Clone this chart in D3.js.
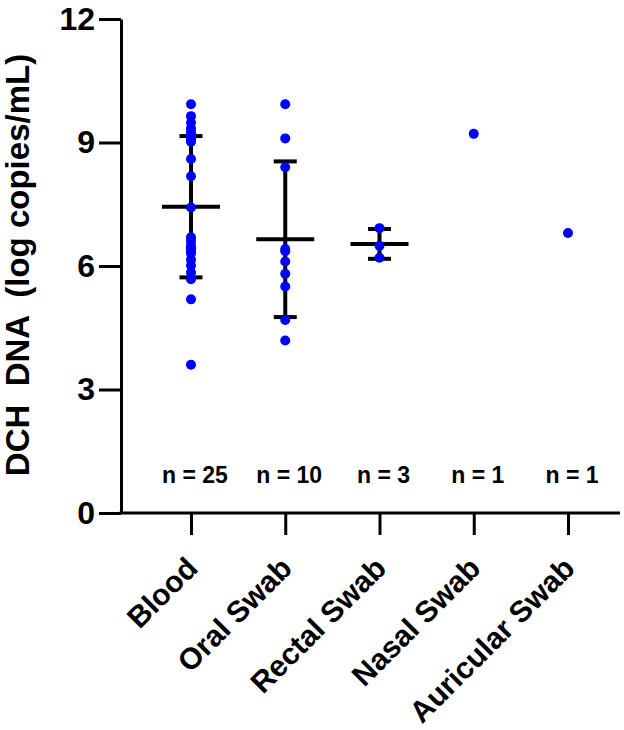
<!DOCTYPE html>
<html>
<head>
<meta charset="utf-8">
<script src="https://cdn.jsdelivr.net/npm/d3@7"></script>
<style>
  body { margin: 0; background: #fff; }
  text { font-family: "Liberation Sans", Arial, sans-serif; font-weight: bold; }
</style>
</head>
<body>
<div id="chart"></div>
<script>
// sample groups, values (log copies/mL)
var categories = ["Blood", "Oral Swab", "Rectal Swab", "Nasal Swab", "Auricular Swab"];
var bloodValues = [9.93, 9.64, 9.48, 9.34, 9.25, 9.18, 9.10, 9.06, 9.02, 8.60, 8.18, 7.42,
                   6.70, 6.61, 6.50, 6.45, 6.40, 6.36, 6.31, 6.15, 6.01, 5.84, 5.68, 5.19, 3.60];
var oralValues = [9.93, 9.10, 8.40, 6.41, 6.36, 6.11, 5.81, 5.50, 4.69, 4.19];
var rectalValues = [6.92, 6.49, 6.20];
var nasalValues = [9.21];
var auricularValues = [6.80];
var yTicks = [0, 3, 6, 9, 12];
var yTitle = "DCH  DNA  (log copies/mL)";

var groups = [bloodValues, oralValues, rectalValues, nasalValues, auricularValues];

var width = 624, height = 730;

var svg = d3.select("#chart").append("svg")
    .attr("width", width)
    .attr("height", height);

var x = d3.scalePoint()
    .domain(categories)
    .range([191, 568]);

var y = d3.scaleLinear()
    .domain([0, 12])
    .range([513, 19]);

// y axis
var yAxis = svg.append("g")
    .attr("transform", "translate(121,0)")
    .call(d3.axisLeft(y).tickValues(yTicks).tickSize(22).tickSizeOuter(0).tickPadding(4));
yAxis.selectAll("path, line").attr("stroke", "#000").attr("stroke-width", 3);
yAxis.selectAll("text").style("font-size", "32px").attr("fill", "#000");

// x axis, domain line runs from the y axis to the right edge
var xAxis = svg.append("g")
    .attr("transform", "translate(0," + y(0) + ")")
    .call(d3.axisBottom(x).tickSize(22).tickSizeOuter(0));
xAxis.select(".domain").attr("d", "M119.5,0H620");
xAxis.selectAll("path, line").attr("stroke", "#000").attr("stroke-width", 3);
xAxis.selectAll("text")
    .attr("x", null)
    .attr("y", null)
    .attr("dy", null)
    .attr("transform", "translate(8,57) rotate(-45)")
    .style("text-anchor", "end")
    .style("font-size", "30px")
    .attr("fill", "#000");

// y title
svg.append("text")
    .attr("transform", "translate(29,265) rotate(-90)")
    .attr("text-anchor", "middle")
    .style("font-size", "33px")
    .style("white-space", "pre")
    .text(yTitle);

var data = groups.map(function(vals, i) {
    return {
        cat: categories[i],
        values: vals,
        mean: d3.mean(vals),
        sd: vals.length > 1 ? d3.deviation(vals) : null
    };
});

// mean +/- SD
var bars = svg.append("g")
    .selectAll("g")
    .data(data.filter(function(d) { return d.sd !== null; }))
    .enter()
    .append("g")
    .attr("stroke", "#000")
    .attr("stroke-width", 4);

bars.append("line")
    .attr("x1", function(d) { return x(d.cat); })
    .attr("x2", function(d) { return x(d.cat); })
    .attr("y1", function(d) { return y(d.mean + d.sd); })
    .attr("y2", function(d) { return y(d.mean - d.sd); });

bars.append("line")
    .attr("x1", function(d) { return x(d.cat) - 29; })
    .attr("x2", function(d) { return x(d.cat) + 29; })
    .attr("y1", function(d) { return y(d.mean); })
    .attr("y2", function(d) { return y(d.mean); });

[1, -1].forEach(function(s) {
    bars.append("line")
        .attr("x1", function(d) { return x(d.cat) - 11.5; })
        .attr("x2", function(d) { return x(d.cat) + 11.5; })
        .attr("y1", function(d) { return y(d.mean + s * d.sd); })
        .attr("y2", function(d) { return y(d.mean + s * d.sd); });
});

// dots
svg.append("g")
    .selectAll("g")
    .data(data)
    .enter()
    .append("g")
    .selectAll("circle")
    .data(function(d) { return d.values.map(function(v) { return {cat: d.cat, v: v}; }); })
    .enter()
    .append("circle")
    .attr("cx", function(d) { return x(d.cat); })
    .attr("cy", function(d) { return y(d.v); })
    .attr("r", 5)
    .attr("fill", "#0000ff");

// n labels
svg.append("g")
    .selectAll("text")
    .data(data)
    .enter()
    .append("text")
    .attr("x", function(d) { return x(d.cat) + 4; })
    .attr("y", 483)
    .attr("text-anchor", "middle")
    .style("font-size", "23px")
    .text(function(d) { return "n = " + d.values.length; });
</script>
</body>
</html>
